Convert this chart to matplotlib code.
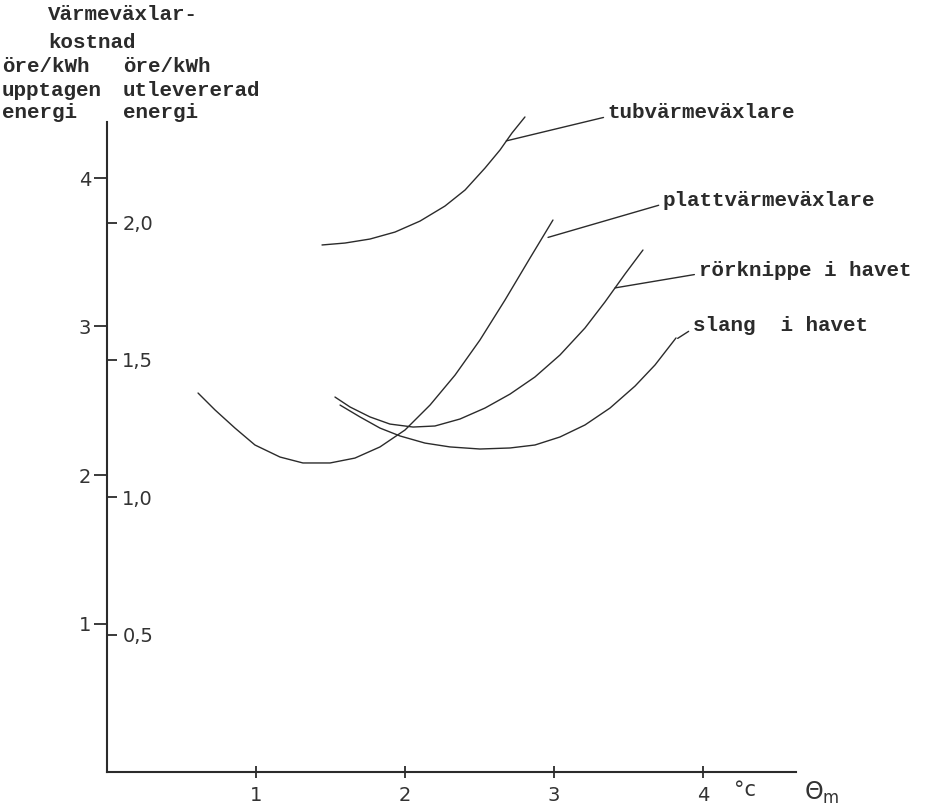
import matplotlib.pyplot as plt

W, H = 925, 805
ink = '#2b2b2b'
mono = 'Liberation Mono'
hand = 'DejaVu Sans'

# curves: x in °C (theta_m), y in öre/kWh upptagen energi
tub_x = [1.443, 1.597, 1.765, 1.933, 2.101, 2.268, 2.403, 2.537, 2.638, 2.718, 2.805]
tub_y = [3.549, 3.562, 3.589, 3.636, 3.710, 3.811, 3.919, 4.067, 4.189, 4.303, 4.411]

platt_x = [0.611, 0.725, 0.859, 0.993, 1.161, 1.315, 1.497, 1.664, 1.832, 2.000,
           2.168, 2.336, 2.503, 2.671, 2.839, 2.993]
platt_y = [2.552, 2.438, 2.316, 2.202, 2.121, 2.081, 2.081, 2.114, 2.189, 2.303,
           2.471, 2.673, 2.909, 3.178, 3.461, 3.717]

ror_x = [1.530, 1.631, 1.765, 1.899, 2.054, 2.201, 2.369, 2.537, 2.705, 2.872,
         3.040, 3.208, 3.342, 3.477, 3.597]
ror_y = [2.525, 2.458, 2.391, 2.343, 2.323, 2.330, 2.377, 2.451, 2.545, 2.660,
         2.808, 2.990, 3.165, 3.354, 3.515]

slang_x = [1.564, 1.698, 1.832, 1.966, 2.134, 2.302, 2.503, 2.705, 2.872, 3.040,
           3.208, 3.376, 3.544, 3.678, 3.819]
slang_y = [2.471, 2.391, 2.316, 2.263, 2.215, 2.189, 2.175, 2.182, 2.202, 2.256,
           2.337, 2.451, 2.599, 2.741, 2.923]

# labels: text, point on curve, text position
labels = ['tubvärmeväxlare', 'plattvärmeväxlare', 'rörknippe i havet', 'slang  i havet']
label_xy = [(2.68, 4.25), (2.96, 3.60), (3.41, 3.26), (3.83, 2.92)]
label_txt = [(3.36, 4.44), (3.73, 3.85), (3.97, 3.38), (3.93, 3.01)]

x_ticks = [1, 2, 3, 4]
y_ticks = [1, 2, 3, 4]
y2_ticks = [0.5, 1.0, 1.5, 2.0]
y2_labels = ['0,5', '1,0', '1,5', '2,0']
scale2 = 1.85  # left units per right unit

plt.rcParams['mathtext.fontset'] = 'dejavusans'

fig = plt.figure(figsize=(W / 100, H / 100), dpi=100)
fig.patch.set_facecolor('white')
ax = fig.add_axes([107 / W, (H - 772) / H, (796 - 107) / W, (772 - 122) / H])
ax.set_xlim(0, 689 / 149)
ax.set_ylim(0, 650 / 148.5)
for s in ['top', 'right']:
    ax.spines[s].set_visible(False)
for s in ['left', 'bottom']:
    ax.spines[s].set_linewidth(1.5)
    ax.spines[s].set_color(ink)

for xs, ys in [(tub_x, tub_y), (platt_x, platt_y), (ror_x, ror_y), (slang_x, slang_y)]:
    ax.plot(xs, ys, color=ink, lw=1.0, clip_on=False,
            solid_capstyle='round', solid_joinstyle='round')

for lab, xy, xt in zip(labels, label_xy, label_txt):
    ax.annotate(lab, xy=xy, xytext=xt, ha='left', va='center', fontsize=15,
                family=mono, weight='bold', color=ink, annotation_clip=False,
                arrowprops=dict(arrowstyle='-', color=ink, lw=1.0,
                                shrinkA=1, shrinkB=0, relpos=(0, 0.3)))

ax.set_xticks(x_ticks)
ax.set_xticklabels([str(v) for v in x_ticks])
ax.tick_params(axis='x', direction='inout', length=8, width=1.3, color=ink,
               pad=6, labelsize=14, labelcolor='#333333')
ax.set_yticks(y_ticks)
ax.set_yticklabels([str(v) for v in y_ticks])
ax.tick_params(axis='y', direction='out', length=9.5, width=1.3, color=ink,
               pad=2, labelsize=14, labelcolor='#333333')
for t in ax.get_xticklabels() + ax.get_yticklabels():
    t.set_family(hand)

# second scale: öre/kWh utlevererad energi, ticks on the right side of the axis
ax2 = ax.twinx()
ax2.set_ylim(0, (650 / 148.5) / scale2)
for s in ['top', 'left', 'bottom', 'right']:
    ax2.spines[s].set_visible(False)
ax2.spines['right'].set_position(('axes', 0.0))
ax2.set_yticks(y2_ticks)
ax2.set_yticklabels(y2_labels)
ax2.tick_params(axis='y', direction='out', length=7, width=1.3, color=ink,
                pad=4, labelsize=14, labelcolor='#333333')
for t in ax2.get_yticklabels():
    t.set_family(hand)

# unit labels on the x axis
ax.text(4.28, -0.12, '°c', ha='center', va='center', fontsize=15, family=hand,
        color='#333333', clip_on=False)
ax.text(4.80, -0.14, r'$\Theta_{\mathrm{m}}$', ha='center', va='center', fontsize=17,
        color='#333333', clip_on=False)

# header text (typewriter)
def head(x, y, s):
    fig.text(x / W, 1 - y / H, s, ha='left', va='center', fontsize=15,
             family=mono, weight='bold', color=ink)

head(48, 15, 'Värmeväxlar-')
head(48, 42, 'kostnad')
head(2, 67, 'öre/kWh')
head(123, 67, 'öre/kWh')
head(2, 90, 'upptagen')
head(123, 90, 'utlevererad')
head(2, 113, 'energi')
head(123, 113, 'energi')

fig.savefig('out.png', dpi=100, facecolor='white')
